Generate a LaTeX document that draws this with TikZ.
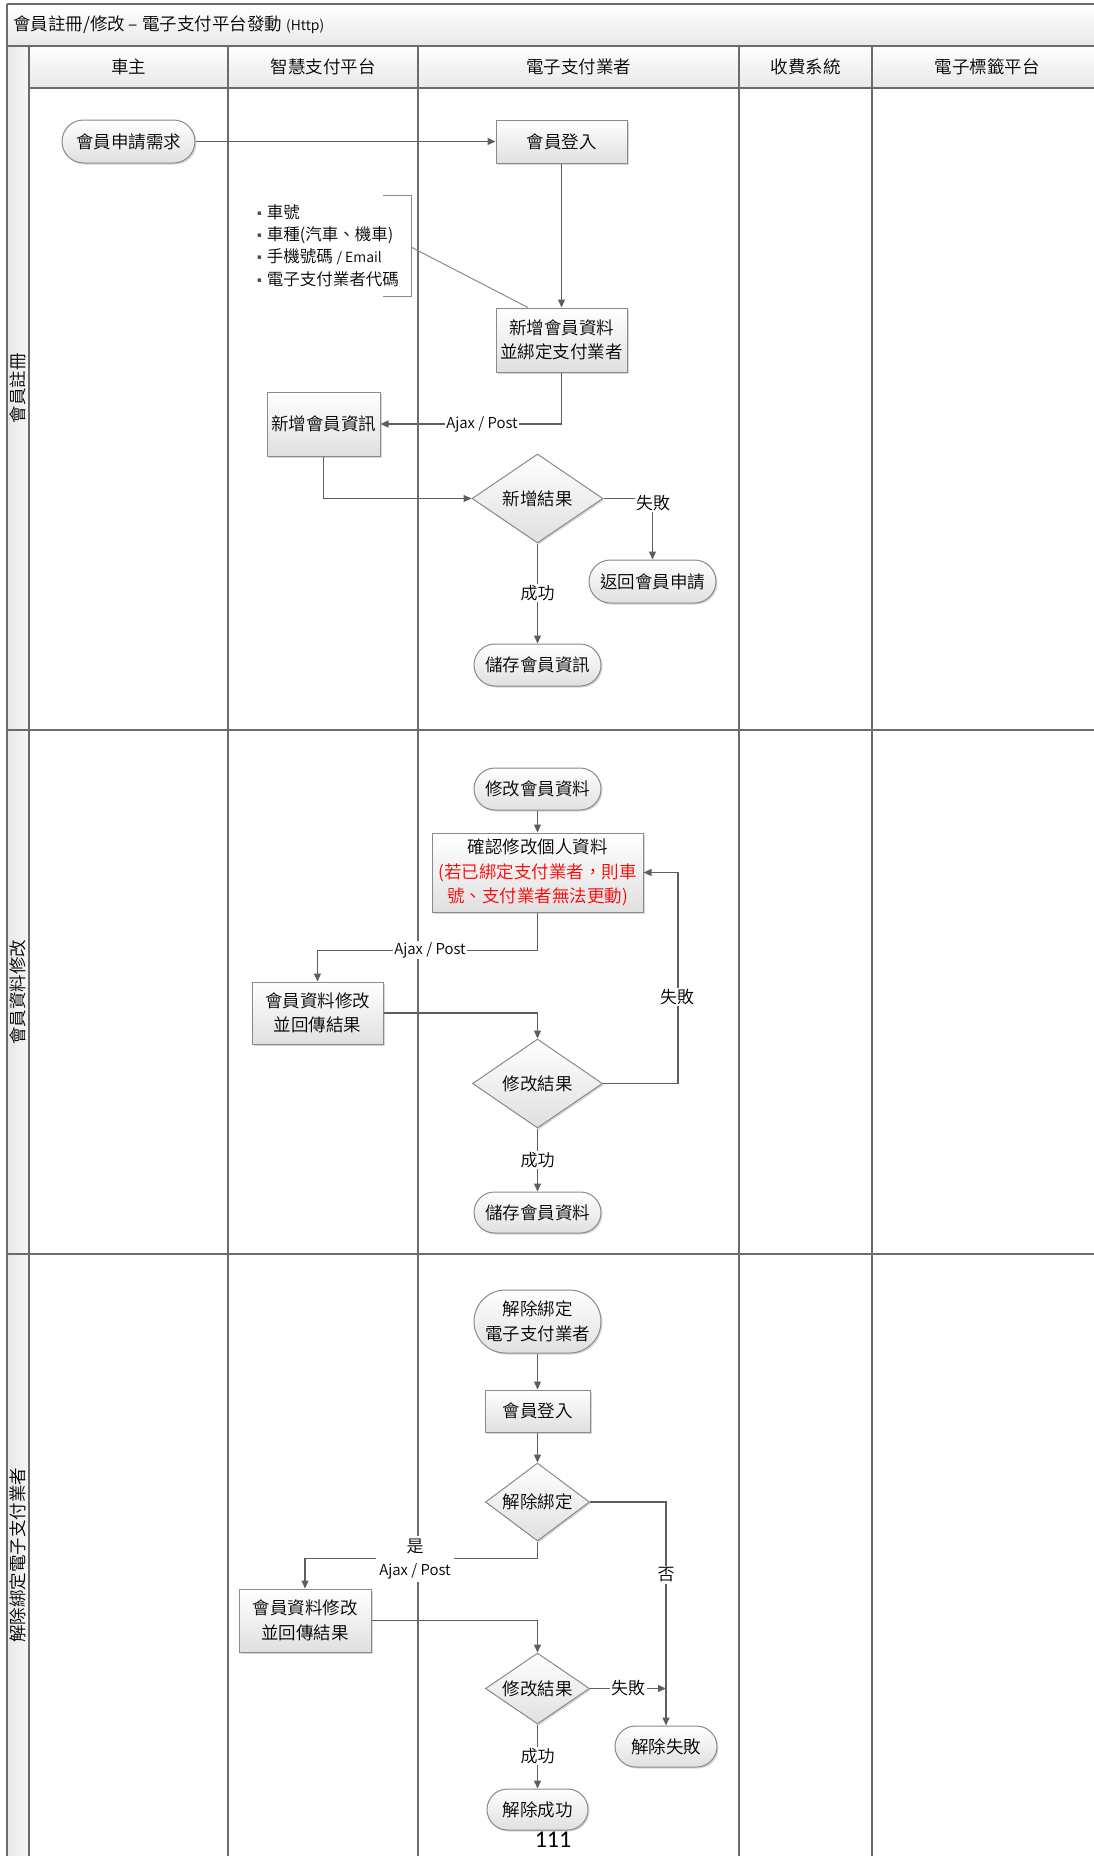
\documentclass[tikz,border=0pt]{standalone}
\usepackage{fontspec}
\setmainfont{Noto Sans CJK TC}[UprightFont={* DemiLight}]
\newfontfamily\djv{DejaVu Sans}
\newfontfamily\carl{Carlito}
\usetikzlibrary{arrows.meta,shapes.geometric,shapes.misc,shadows,calc}
\newcommand{\fsz}[2]{\fontsize{#1}{#2}\selectfont}
\newcommand{\zw}[1]{\makebox[0pt]{#1}}
\newcommand{\bul}{\raisebox{3pt}{\djv\fsz{7}{9}\textcolor{black!70}{▪}}\hspace{5pt}}
\definecolor{lanec}{HTML}{6B6B6B}
\definecolor{connc}{HTML}{5E5E5E}
\definecolor{boxb}{HTML}{8A8A8A}
\definecolor{boxbot}{HTML}{E0E0E0}
\definecolor{hdrbot}{HTML}{E8E8E8}
\definecolor{redtxt}{HTML}{FF0000}
\tikzset{
  lane/.style={draw=lanec, line width=1.4pt},
  basebox/.style={draw=boxb, line width=1pt, top color=white, bottom color=boxbot,
    drop shadow={shadow xshift=1.5pt, shadow yshift=-1.5pt, opacity=0.35, fill=black!45},
    font=\fsz{17.5}{24.5}, align=center, inner sep=2pt},
  procbox/.style={basebox, rectangle},
  termbox/.style={basebox, rounded rectangle},
  decbox/.style={basebox, diamond, inner sep=0pt},
  conn/.style={draw=connc, line width=1.1pt, -{Triangle[length=8pt,width=7pt]}},
  plainconn/.style={draw=connc, line width=1.1pt},
  lbl/.style={fill=white, inner sep=1.5pt, font=\fsz{17}{20}},
  ajax/.style={fill=white, inner sep=1.5pt, font=\fsz{15}{18}},
  hdr/.style={font=\fsz{17.5}{20}},
  lanelbl/.style={font=\fsz{17.5}{20}, rotate=90},
}
\begin{document}
\begin{tikzpicture}[x=1pt, y=-1pt]
\useasboundingbox (0,0) rectangle (1093,1856);
\fill[white] (0,0) rectangle (1093,1856);
% ---- frame / title / header ----
\shade[top color=white, bottom color=hdrbot] (7,4) rectangle (1102,46);
\shade[top color=white, bottom color=hdrbot] (29,46) rectangle (1102,88);
\shade[left color=hdrbot, right color=white!97!black] (7,46) rectangle (29,1860);
\draw[lane] (7,4) -- (1102,4);
\draw[lane] (7,4) -- (7,1860);
\draw[lane] (7,46) -- (1102,46);
\draw[lane] (29,88) -- (1102,88);
\draw[lane] (29,46) -- (29,1860);
\foreach \x in {228,418,739,872} \draw[lane] (\x,46) -- (\x,1860);
\draw[lane] (7,730) -- (1102,730);
\draw[lane] (7,1254) -- (1102,1254);
\node[anchor=west, font=\fsz{17.5}{20}, inner sep=0pt] (title) at (13,25) {會員註冊/修改 – 電子支付平台發動 {\fsz{14}{16}(Http)}};
\node[hdr] (h1) at (128.5,67) {車主};
\node[hdr] (h2) at (323,67) {智慧支付平台};
\node[hdr] (h3) at (578.5,67) {電子支付業者};
\node[hdr] (h4) at (805.5,67) {收費系統};
\node[hdr] (h5) at (987,67) {電子標籤平台};
\node[lanelbl] (l1) at (18,388) {會員註冊};
\node[lanelbl] (l2) at (18,992) {會員資料修改};
\node[lanelbl] (l3) at (18,1555) {解除綁定電子支付業者};
% ---- row 1 nodes ----
\node[termbox, minimum width=137pt, minimum height=43pt] (req) at (128.5,141.5) {會員申請需求};
\node[procbox, minimum width=131pt, minimum height=43pt] (login1) at (561.5,141.5) {會員登入};
\node[procbox, minimum width=131pt, minimum height=64pt] (add1) at (561.5,340) {新增會員資料\\並綁定支付業者};
\node[procbox, minimum width=113pt, minimum height=64pt] (info1) at (323.5,424) {新增會員資訊};
\node[decbox, minimum width=131pt, minimum height=89pt] (dec1) at (537.5,498.5) {\zw{新增結果}};
\node[termbox, minimum width=131pt, minimum height=43pt] (back1) at (652.5,581.5) {返回會員申請};
\node[termbox, minimum width=131pt, minimum height=42pt] (save1) at (537.5,665) {儲存會員資訊};
% note
\node[anchor=west, align=left, inner sep=0pt, font=\fsz{16.5}{22.4}] (note) at (257,245.5)
  {\bul 車號\\\bul 車種(汽車、機車)\\\bul 手機號碼 {\fsz{14}{16}/ Email}\\\bul 電子支付業者代碼};
\coordinate (bra) at (383,195);
\coordinate (brb) at (411,195);
\coordinate (brc) at (411,296);
\coordinate (brd) at (383,296);
\coordinate (brm) at (411,247);
\draw[plainconn, line width=1pt, draw=boxb] (bra) -- (brb) -- (brc) -- (brd);
\draw[plainconn, line width=1pt, draw=boxb] (brm) -- ($(add1.north west)!0.245!(add1.north east)$);
% ---- row 1 connectors ----
\draw[conn] (req.east) -- (login1.west);
\draw[conn] (login1.south) -- (add1.north);
\draw[conn] (add1.south) |- (info1.east);
\node[ajax] (aj1) at (482,424) {Ajax / Post};
\draw[conn] (info1.south) |- (dec1.west);
\draw[conn] (dec1.east) -| (back1.north);
\node[lbl] (f1) at (653,503) {失敗};
\draw[conn] (dec1.south) -- (save1.north);
\node[lbl] (s1) at (537.5,593) {成功};
% ---- row 2 nodes ----
\node[termbox, minimum width=131pt, minimum height=42pt] (mod) at (537.5,789) {修改會員資料};
\node[procbox, minimum width=211pt, minimum height=79pt] (confirm) at (537.5,872.5)
  {確認修改個人資料\\\textcolor{redtxt}{(若已綁定支付業者，則車}\\\textcolor{redtxt}{號、支付業者無法更動)}};
\node[procbox, minimum width=131pt, minimum height=62pt] (upd2) at (317.5,1013) {會員資料修改\\並回傳結果};
\node[decbox, minimum width=130pt, minimum height=89pt] (dec2) at (537.5,1083.5) {\zw{修改結果}};
\node[termbox, minimum width=131pt, minimum height=41pt] (save2) at (537.5,1212.5) {儲存會員資料};
% ---- row 2 connectors ----
\draw[conn] (mod.south) -- (confirm.north);
\draw[conn] (confirm.south) -- ($(confirm.south)+(0,38)$) -| (upd2.north);
\node[ajax] (aj2) at (430,950) {Ajax / Post};
\draw[conn] (upd2.east) -| (dec2.north);
\draw[conn] (dec2.east) -- ($(dec2.east)+(75,0)$) |- (confirm.east);
\node[lbl] (f2) at (677,997) {失敗};
\draw[conn] (dec2.south) -- (save2.north);
\node[lbl] (s2) at (537.5,1160) {成功};
% ---- row 3 nodes ----
\node[termbox, minimum width=131pt, minimum height=63pt] (unbind) at (537.5,1321.5) {解除綁定\\電子支付業者};
\node[procbox, minimum width=105pt, minimum height=42pt] (login3) at (537.5,1411) {會員登入};
\node[decbox, minimum width=104pt, minimum height=78pt] (dec3) at (537.5,1502) {\zw{解除綁定}};
\node[procbox, minimum width=132pt, minimum height=63pt] (upd3) at (305,1620.5) {會員資料修改\\並回傳結果};
\node[decbox, minimum width=104pt, minimum height=71pt] (dec4) at (537.5,1688.5) {\zw{修改結果}};
\node[termbox, minimum width=106pt, minimum height=41pt] (fail3) at (666,1746.5) {解除失敗};
\node[termbox, minimum width=105pt, minimum height=41pt] (succ3) at (537.5,1809.5) {解除成功};
% ---- row 3 connectors ----
\draw[conn] (unbind.south) -- (login3.north);
\draw[conn] (login3.south) -- (dec3.north);
\draw[conn] (dec3.south) -- ($(dec3.south)+(0,17)$) -| (upd3.north);
\node[fill=white, inner sep=3pt, minimum width=77pt, align=center, font=\fsz{17}{23}] (yes3) at (415,1559) {是\\{\fsz{15}{16}Ajax / Post}};
\draw[conn] (dec3.east) -| (fail3.north);
\node[lbl] (no3) at (666,1575) {否};
\draw[conn] (upd3.east) -| (dec4.north);
\coordinate (f3end) at (fail3.north |- dec4.east);
\draw[conn] (dec4.east) -- (f3end);
\node[lbl] (f3) at (628,1688.5) {失敗};
\draw[conn] (dec4.south) -- (succ3.north);
\node[lbl] (s3) at (537.5,1756) {成功};
\node[font=\carl\fsz{24}{28}, inner sep=0pt] (pg) at (553,1840) {111};
\end{tikzpicture}
\end{document}
